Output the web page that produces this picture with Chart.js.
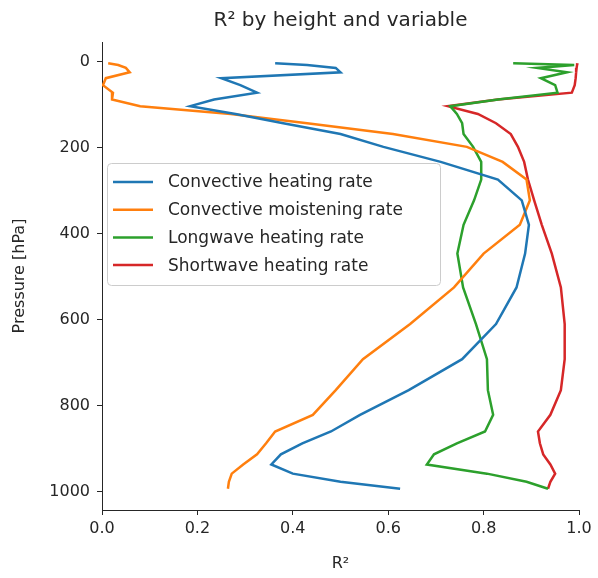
<!DOCTYPE html>
<html>
<head>
<meta charset="utf-8">
<script src="https://cdn.jsdelivr.net/npm/chart.js@4.4.0/dist/chart.umd.min.js"></script>
<style>
  body { margin: 0; background: #fff; }
</style>
</head>
<body>
<canvas id="myChart" width="598" height="578"></canvas>
<script>
// pressure levels (hPa) shared by every profile
const pressure = [3.64, 7.59, 14.36, 24.61, 38.27, 54.6, 72.01, 87.82, 103.32, 121.55,
  142.99, 168.23, 197.91, 232.83, 273.91, 322.24, 379.1, 445.99, 524.69, 609.78,
  691.39, 763.4, 820.86, 859.53, 887.02, 912.64, 936.2, 957.49, 976.33, 992.56];

// R2 per level, one array per variable
const convHeating = [0.363, 0.43, 0.49, 0.50, 0.25, 0.29, 0.325, 0.235, 0.185, 0.28,
  0.38, 0.50, 0.59, 0.71, 0.83, 0.88, 0.895, 0.887, 0.869, 0.826,
  0.755, 0.643, 0.541, 0.48, 0.42, 0.375, 0.355, 0.40, 0.50, 0.625];
const convMoistening = [0.013, 0.034, 0.05, 0.058, 0.008, 0.002, 0.023, 0.021, 0.08, 0.27,
  0.43, 0.61, 0.765, 0.84, 0.89, 0.897, 0.876, 0.80, 0.738, 0.646,
  0.547, 0.49, 0.442, 0.363, 0.344, 0.325, 0.296, 0.272, 0.266, 0.264];
const longwave = [0.862, 0.99, 0.912, 0.975, 0.92, 0.95, 0.955, 0.83, 0.73, 0.744,
  0.755, 0.758, 0.778, 0.795, 0.795, 0.78, 0.758, 0.745, 0.757, 0.784,
  0.807, 0.809, 0.82, 0.803, 0.744, 0.696, 0.681, 0.807, 0.89, 0.935];
const shortwave = [0.997, 0.996, 0.995, 0.994, 0.993, 0.991, 0.985, 0.83, 0.725, 0.788,
  0.826, 0.857, 0.872, 0.885, 0.893, 0.906, 0.922, 0.943, 0.962, 0.97,
  0.97, 0.962, 0.94, 0.914, 0.918, 0.925, 0.94, 0.95, 0.94, 0.935];

const seriesNames = ["Convective heating rate", "Convective moistening rate",
  "Longwave heating rate", "Shortwave heating rate"];
const seriesColors = ["#1f77b4", "#ff7f0e", "#2ca02c", "#d62728"];
const xTicks = [0, 0.2, 0.4, 0.6, 0.8, 1.0];
const yTicks = [0, 200, 400, 600, 800, 1000];

const FONT = "'DejaVu Sans', sans-serif";
const INK = "#262626";

const profiles = [convHeating, convMoistening, longwave, shortwave];

const toPoints = (vals) => vals.map((v, i) => ({ x: v, y: pressure[i] }));

// matplotlib style legend box, drawn over the plot
const legendBox = {
  id: "legendBox",
  afterDraw(chart) {
    const ctx = chart.ctx;
    const area = chart.chartArea;
    const left = area.left + 5, top = 163, w = 333, h = 122;
    ctx.save();
    ctx.beginPath();
    ctx.roundRect(left + 0.5, top + 0.5, w, h, 4);
    ctx.fillStyle = "rgba(255,255,255,0.8)";
    ctx.fill();
    ctx.strokeStyle = "#cccccc";
    ctx.lineWidth = 1;
    ctx.stroke();
    ctx.font = "17px " + FONT;
    ctx.textBaseline = "middle";
    chart.data.datasets.forEach((ds, i) => {
      const y = top + 19 + i * 27.7;
      ctx.beginPath();
      ctx.moveTo(left + 6, y);
      ctx.lineTo(left + 46, y);
      ctx.strokeStyle = ds.borderColor;
      ctx.lineWidth = 2.5;
      ctx.stroke();
      ctx.fillStyle = INK;
      ctx.fillText(ds.label, left + 61, y + 1);
    });
    ctx.restore();
  }
};

const chart_target = document.querySelector("#myChart");

const config = {
  type: "scatter",
  data: {
    datasets: profiles.map((vals, i) => ({
      label: seriesNames[i],
      data: toPoints(vals),
      showLine: true,
      borderColor: seriesColors[i],
      backgroundColor: seriesColors[i],
      borderWidth: 2.5,
      pointRadius: 0,
      tension: 0
    }))
  },
  options: {
    responsive: false,
    animation: false,
    layout: { padding: { left: 0, right: 19, top: 0, bottom: 0 } },
    plugins: {
      legend: { display: false },
      tooltip: { enabled: false },
      title: {
        display: true,
        text: "R² by height and variable",
        color: INK,
        fullSize: false,
        font: { family: FONT, size: 20, weight: "normal" },
        padding: { top: 9, bottom: 9 }
      }
    },
    scales: {
      x: {
        type: "linear",
        min: 0,
        max: 1,
        afterBuildTicks: (axis) => { axis.ticks = xTicks.map((v) => ({ value: v })); },
        afterFit: (axis) => { axis.height = 68; },
        ticks: {
          color: INK,
          font: { family: FONT, size: 16 },
          padding: 4,
          maxRotation: 0,
          callback: (v) => v.toFixed(1)
        },
        grid: { drawOnChartArea: false, drawTicks: true, tickLength: 5, color: INK },
        border: { color: INK, width: 1 },
        title: {
          display: true,
          text: "R²",
          color: INK,
          font: { family: FONT, size: 16 },
          padding: { top: 0, bottom: 5 }
        }
      },
      y: {
        type: "linear",
        reverse: true,
        min: -45.8,
        max: 1042,
        afterBuildTicks: (axis) => { axis.ticks = yTicks.map((v) => ({ value: v })); },
        afterFit: (axis) => { axis.width = 102; },
        ticks: {
          color: INK,
          font: { family: FONT, size: 16 },
          padding: 7,
          callback: (v) => String(v)
        },
        grid: { drawOnChartArea: false, drawTicks: true, tickLength: 5, color: INK },
        border: { color: INK, width: 1 },
        title: {
          display: true,
          text: "Pressure [hPa]",
          color: INK,
          font: { family: FONT, size: 16 },
          padding: { top: 10, bottom: 0 }
        }
      }
    }
  },
  plugins: [legendBox]
};

const mychart = new Chart(chart_target, config);
</script>
</body>
</html>
